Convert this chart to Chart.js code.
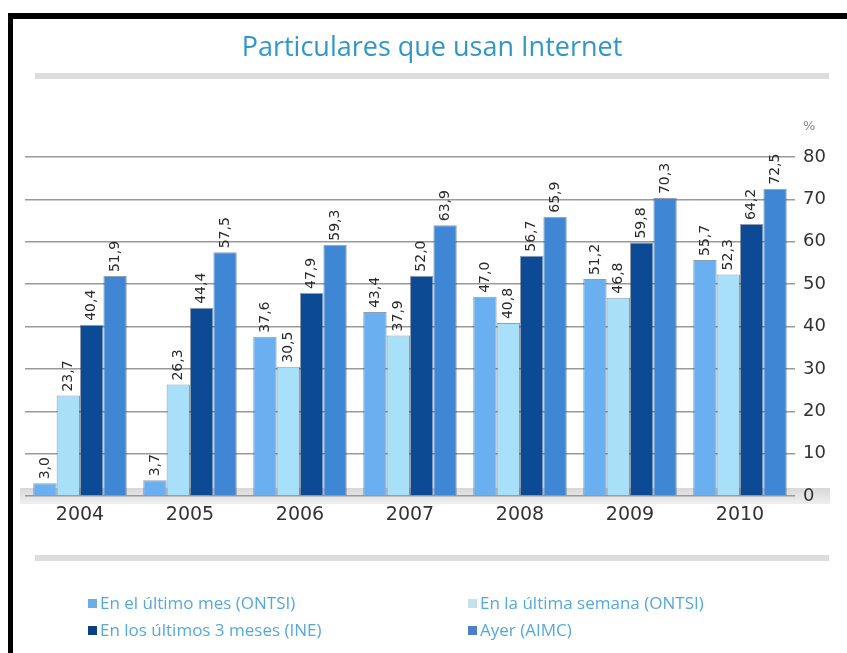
<!DOCTYPE html>
<html>
<head>
<meta charset="utf-8">
<script src="https://cdn.jsdelivr.net/npm/chart.js@4"></script>
<style>
    body { margin: 0; background: #fff; }
    #page { position: relative; width: 847px; height: 653px; overflow: hidden; background: #fff; }
    #frame { position: absolute; left: 8px; top: 13px; right: -10px; bottom: -10px; border-top: 6px solid #000; border-left: 5px solid #000; }
    #title { position: absolute; left: 0; width: 864px; top: 27px; text-align: center; font: 27px "Open Sans", sans-serif; color: #2f98c8; }
    .band { position: absolute; left: 35px; width: 794px; height: 6px; background: #dcdcdc; }
    #chart { position: absolute; left: 0; top: 0; }
    .legend { position: absolute; font: 17px "Open Sans", sans-serif; color: #55a9dc; white-space: nowrap; }
    .legend i { display: inline-block; width: 9px; height: 9px; margin-right: 3px; vertical-align: 1px; }
</style>
</head>
<body>
<div id="page">
    <div id="frame"></div>
    <canvas id="chart" width="847" height="653"></canvas>
    <div id="title">Particulares que usan Internet</div>
    <div class="band" style="top:73px"></div>
    <div class="band" style="top:555px"></div>
    <div id="legend"></div>
</div>
<script>
// Data
const years = ['2004', '2005', '2006', '2007', '2008', '2009', '2010'];
const lastMonth = [3.0, 3.7, 37.6, 43.4, 47.0, 51.2, 55.7];
const lastWeek = [23.7, 26.3, 30.5, 37.9, 40.8, 46.8, 52.3];
const last3Months = [40.4, 44.4, 47.9, 52.0, 56.7, 59.8, 64.2];
const yesterday = [51.9, 57.5, 59.3, 63.9, 65.9, 70.3, 72.5];
const seriesLabels = ['En el último mes (ONTSI)', 'En la última semana (ONTSI)', 'En los últimos 3 meses (INE)', 'Ayer (AIMC)'];
const seriesColors = ['#6aaff0', '#a8e0fa', '#0d4a96', '#3f87d4'];
const legendColors = ['#6aaee6', '#c4e2ee', '#0d3f86', '#4a7fcb'];
const yMin = 0, yMax = 80, yStep = 10;

const fmt = v => v.toFixed(1).replace('.', ',');

// Legend (two columns)
const legendPos = [[88, 591], [468, 591], [88, 618], [468, 618]];
document.getElementById('legend').innerHTML = seriesLabels.map((label, i) => `
    <div class="legend" style="left:${legendPos[i][0]}px;top:${legendPos[i][1]}px">
        <i style="background:${legendColors[i]}"></i>${label}
    </div>`).join('');

// Floor band + "%" label + value labels
const decorPlugin = {
    id: 'decor',
    beforeDraw(chart) {
        const { ctx, chartArea } = chart;
        ctx.save();
        const grad = ctx.createLinearGradient(0, chartArea.bottom - 8, 0, chartArea.bottom + 10);
        grad.addColorStop(0, '#d8d8d8');
        grad.addColorStop(1, '#f2f2f2');
        ctx.fillStyle = grad;
        ctx.fillRect(chartArea.left - 5, chartArea.bottom - 8, chartArea.right - chartArea.left + 40, 16);
        ctx.restore();
    },
    afterDatasetsDraw(chart) {
        const { ctx, chartArea } = chart;
        ctx.save();
        ctx.fillStyle = '#888';
        ctx.font = '13px "DejaVu Sans", sans-serif';
        ctx.textAlign = 'left';
        ctx.textBaseline = 'middle';
        ctx.fillText('%', chartArea.right + 8, 127);

        ctx.fillStyle = '#2a2a2a';
        ctx.font = '14px "DejaVu Sans", sans-serif';
        chart.data.datasets.forEach((ds, di) => {
            chart.getDatasetMeta(di).data.forEach((bar, i) => {
                ctx.save();
                ctx.translate(bar.x, bar.y - 4);
                ctx.rotate(-Math.PI / 2);
                ctx.fillText(fmt(ds.data[i]), 0, 0);
                ctx.restore();
            });
        });
        ctx.restore();
    }
};

new Chart(document.getElementById('chart').getContext('2d'), {
    type: 'bar',
    data: {
        labels: years,
        datasets: [lastMonth, lastWeek, last3Months, yesterday].map((values, i) => ({
            label: seriesLabels[i],
            data: values,
            backgroundColor: seriesColors[i],
            borderColor: 'rgba(10, 40, 80, 0.45)',
            borderWidth: 1,
            barPercentage: 1.0,
            categoryPercentage: 0.85
        }))
    },
    plugins: [decorPlugin],
    options: {
        responsive: false,
        animation: false,
        layout: { padding: { left: 25, right: 2, top: 157, bottom: 127 } },
        plugins: {
            legend: { display: false },
            title: { display: false },
            tooltip: { enabled: false }
        },
        scales: {
            x: {
                grid: { display: false },
                border: { display: false },
                ticks: { color: '#333', font: { size: 19, family: '"DejaVu Sans", sans-serif' }, padding: 0 },
                afterFit: s => { s.height = 30; }
            },
            y: {
                position: 'right',
                min: yMin,
                max: yMax,
                ticks: { stepSize: yStep, color: '#333', font: { size: 18, family: '"DejaVu Sans", sans-serif' }, padding: 8 },
                grid: { color: '#9a9a9a', lineWidth: 1.5, drawTicks: false },
                border: { display: false },
                afterFit: s => { s.width = 50; }
            }
        }
    }
});
</script>
</body>
</html>
